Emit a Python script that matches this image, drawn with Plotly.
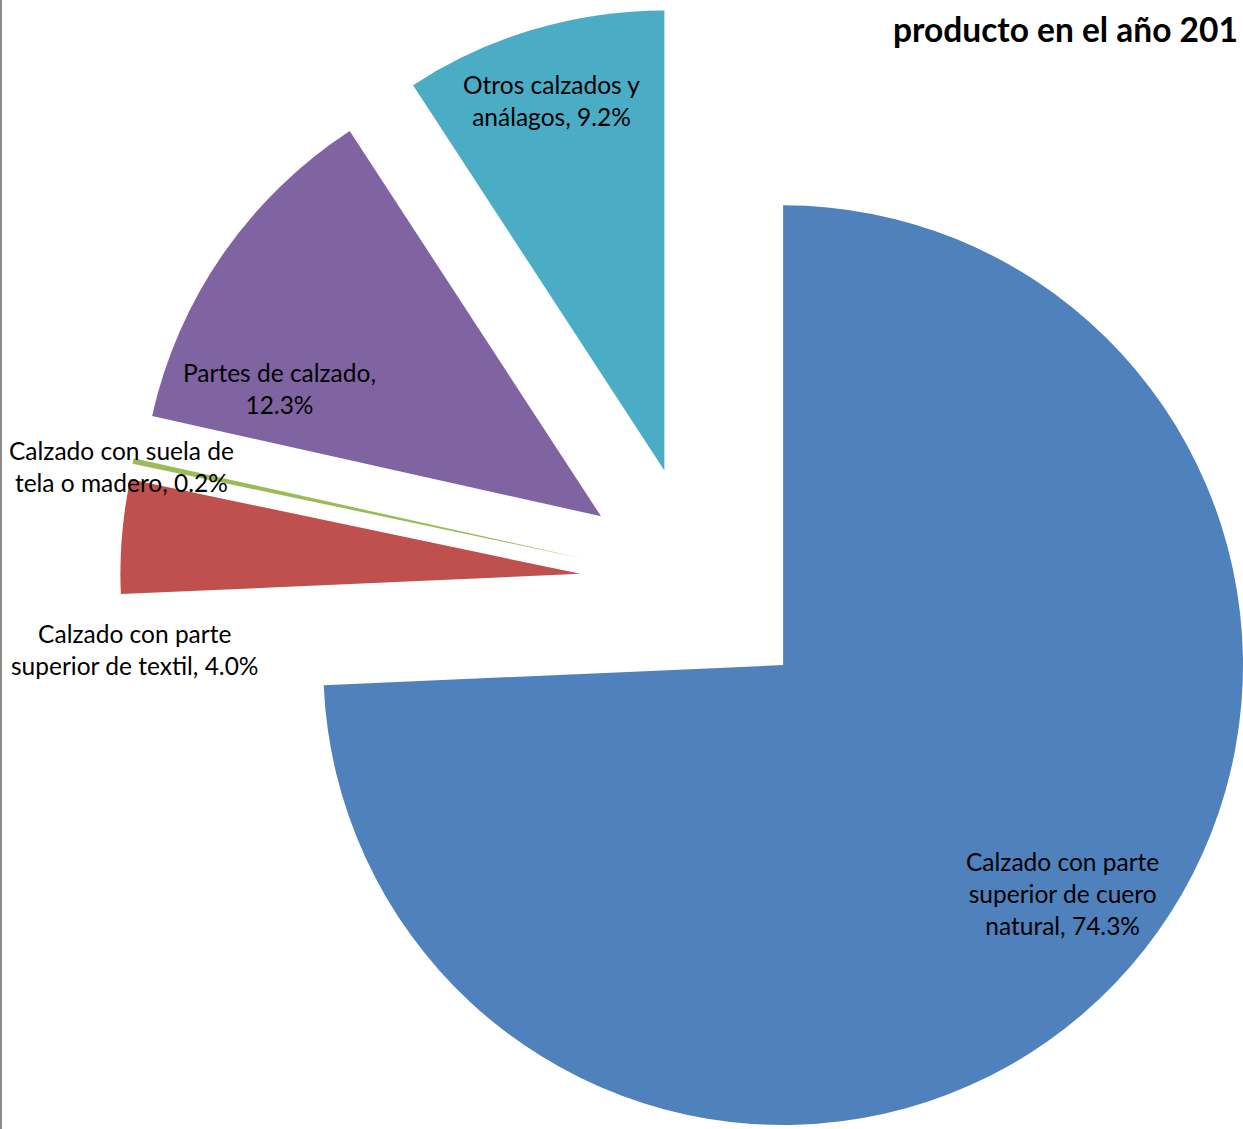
import numpy as np
import plotly.graph_objects as go

# ---- data ----
categories = [
    "Calzado con parte superior de cuero natural",
    "Calzado con parte superior de textil",
    "Calzado con suela de tela o madero",
    "Partes de calzado",
    "Otros calzados y análagos",
]
label_lines = [
    ["Calzado con parte", "superior de cuero", "natural, {v}"],
    ["Calzado con parte", "superior de textil, {v}"],
    ["Calzado con suela de", "tela o madero, {v}"],
    ["Partes de calzado,", "{v}"],
    ["Otros calzados y", "análagos, {v}"],
]
shares = [74.3, 4.0, 0.2, 12.3, 9.2]
colors = ["#4F81BD", "#C0504D", "#9BBB59", "#8064A2", "#4BACC6"]
title_text = "producto en el año 201"

# ---- layout geometry (pixels) ----
W, H = 1243, 1129
center = (698.0, 583.5)   # common pie centre
R = 460.0                 # pie radius
PULL = 118.0              # explosion distance of each slice
label_pos = [(1062, 893), (134, 649), (121, 466), (279, 388), (551, 100)]
FONT = "Lato"

vals = np.array(shares, dtype=float)
cum = np.cumsum(vals) - vals / 2.0
mid_angles = np.deg2rad(cum / vals.sum() * 360.0)  # clockwise from 12 o'clock

fig = go.Figure()
for i, cat in enumerate(categories):
    cx = center[0] + PULL * np.sin(mid_angles[i])
    cy = center[1] - PULL * np.cos(mid_angles[i])  # screen y downwards
    x0 = max(0.0, (cx - R) / W)
    x1 = min(1.0, (cx + R) / W)
    y0 = max(0.0, 1 - (cy + R) / H)
    y1 = min(1.0, 1 - (cy - R) / H)
    cols = ["rgba(0,0,0,0)"] * len(categories)
    cols[i] = colors[i]
    fig.add_trace(go.Pie(
        labels=categories,
        values=shares,
        sort=False,
        direction="clockwise",
        rotation=0,
        marker=dict(colors=cols, line=dict(width=0)),
        textinfo="none",
        hoverinfo="skip",
        showlegend=False,
        domain=dict(x=[x0, x1], y=[y0, y1]),
    ))

annotations = []
for i, cat in enumerate(categories):
    txt = "<br>".join(l.format(v=f"{shares[i]:.1f}%") for l in label_lines[i])
    px, py = label_pos[i]
    annotations.append(dict(
        x=px / W, y=1 - py / H, xref="paper", yref="paper",
        text=txt, showarrow=False, xanchor="center", yanchor="middle",
        align="center", font=dict(family=FONT, size=24.5, color="#000000"),
    ))
annotations.append(dict(
    x=1240 / W, y=1 - 29 / H, xref="paper", yref="paper",
    text=f"<b>{title_text}</b>", showarrow=False, xanchor="right", yanchor="middle",
    font=dict(family=FONT, size=33.5, color="#000000"),
))

fig.update_layout(
    width=W, height=H,
    margin=dict(l=0, r=0, t=0, b=0),
    paper_bgcolor="white", plot_bgcolor="white",
    annotations=annotations,
    shapes=[dict(type="line", xref="paper", yref="paper", x0=0.0008, x1=0.0008,
                 y0=0, y1=1, line=dict(color="#8C8C8C", width=2))],
)
fig.write_html("out.html", config={"displayModeBar": False},
               post_script="document.body.style.margin='0';document.body.style.overflow='hidden';")
